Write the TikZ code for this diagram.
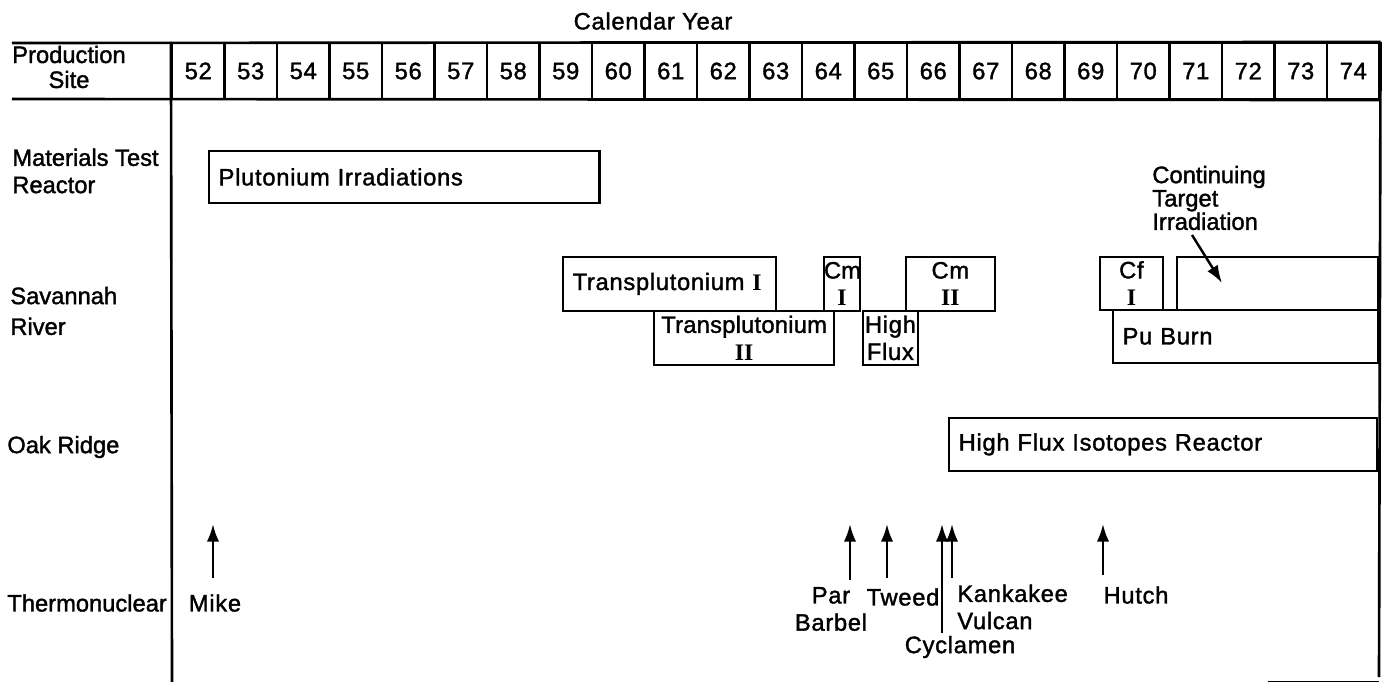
\documentclass[tikz,border=0pt]{standalone}
\usepackage{fontspec}
\setmainfont{Liberation Sans}[FakeBold=1.5]
\newfontfamily\romfont{Liberation Serif}
\usetikzlibrary{arrows.meta}
\def\colw{52.5}
\def\xzero{172}
\def\pxu{0.5669}
\def\tipy{524}
\newcommand{\romn}[1]{{\romfont\bfseries #1}}
\newcommand{\runbox}[6]{
    \pgfmathsetmacro{\boxw}{(#4-#2)*\pxu-11}
    \pgfmathsetmacro{\boxh}{(#5-#3)*\pxu}
    \node[runbox, align=left, inner xsep=5.5pt, text width=\boxw pt, minimum height=\boxh pt] (#1) at (#2,#3) {#6};
}
\newcommand{\tagbox}[6]{
    \pgfmathsetmacro{\boxw}{(#4-#2)*\pxu}
    \pgfmathsetmacro{\boxh}{(#5-#3)*\pxu}
    \node[runbox, align=center, inner xsep=0pt, text width=\boxw pt, minimum height=\boxh pt] (#1) at (#2,#3) {#6};
}
\newcommand{\shot}[3]{
    \coordinate (#1-tail) at (#2,#3);
    \coordinate (#1-tip) at (#2,\tipy);
    \draw[shotarrow] (#1-tail) -- (#1-tip);
}
\tikzset{
    sitelbl/.style={font=\fontsize{13.5}{15.5}\selectfont, inner sep=0pt},
    lbl/.style={font=\fontsize{13.5}{15.5}\selectfont\addfontfeature{LetterSpace=3}, inner sep=0pt},
    runbox/.style={lbl, draw, line width=1.3pt, anchor=north west, outer sep=0pt, inner ysep=0pt},
    yearcell/.style={lbl, draw, line width=1.3pt, minimum width=29.76pt, minimum height=31.75pt},
    frame/.style={line width=1.5pt},
    shotarrow/.style={line width=1.4pt, -{Latex[length=10pt,width=7pt]}}
}

\begin{document}
\begin{tikzpicture}[x=0.02cm, y=-0.02cm]
    \useasboundingbox (0,0) rectangle (1383,682);
    \node[lbl] (calyear) at (653,21) {Calendar Year};
    \foreach \yr [count=\i from 0] in {52,...,74}
        \node[yearcell] (y\yr) at ({\xzero+(\i+0.5)*\colw},71) {\yr};
    \draw[frame] (12,43) -- (y74.north east);
    \draw[frame] (12,99) -- (y74.south east);
    \draw[frame] (y52.north west) -- (\xzero,682);
    \draw[frame] (y74.north east) -- (1379,677);
    \draw[thin] (1268,681) -- (1379,681);

    \node[sitelbl, align=center, font=\fontsize{13.5}{14.2}\selectfont] (prodsite) at (69,67) {Production\\Site};
    \node[sitelbl, align=left, anchor=west] (mtr) at (12,171) {Materials Test\\Reactor};
    \node[sitelbl, align=left, anchor=west] (savriver) at (10,311) {Savannah\\[2pt]River};
    \node[sitelbl, anchor=west] (oakridge) at (7,447) {Oak Ridge};
    \node[sitelbl, anchor=west] (thermo) at (7,603) {Thermonuclear};

    \runbox{puirr}{209}{151}{601}{203}{Plutonium Irradiations}
    \runbox{tpu1}{563}{257}{777}{311}{Transplutonium \romn{I}}
    \tagbox{tpu2}{654}{311}{835}{365}{\addfontfeature{LetterSpace=1}Transplutonium\\\romn{II}}
    \tagbox{cm1}{824}{257}{860}{311}{\addfontfeature{LetterSpace=0}Cm\\\romn{I}}
    \tagbox{hiflux}{863}{311}{918}{365}{High\\Flux}
    \tagbox{cm2}{906}{257}{995}{311}{Cm\\\romn{II}}
    \tagbox{cf1}{1100}{257}{1163}{310}{Cf\\\romn{I}}
    \runbox{target}{1177}{257}{1379}{310}{}
    \runbox{puburn}{1113}{310}{1379}{363}{Pu Burn}
    \runbox{hfir}{949}{418}{1379}{471}{High Flux Isotopes Reactor}

    \node[lbl, align=left, anchor=west, font=\fontsize{13.5}{13.3}\selectfont] (contlbl) at (1152,198) {Continuing\\Target\\Irradiation};
    \coordinate (target-from) at (1192,235);
    \coordinate (target-aim) at (1222,283);
    \draw[shotarrow] (target-from) -- (target-aim);

    \shot{mike}{213}{578}
    \shot{parbarbel}{850}{580}
    \shot{tweed}{887}{578}
    \shot{cyclamen}{942}{633}
    \shot{kankakee}{952}{578}
    \shot{hutch}{1103}{575}
    \node[lbl] (mikelbl) at (215,603) {Mike};
    \node[lbl, align=center] (parlbl) at (831,609) {Par\\Barbel};
    \node[lbl] (tweedlbl) at (903,597) {Tweed};
    \node[lbl] (cyclbl) at (960,647) {Cyclamen};
    \node[lbl, align=left, anchor=west] (kanklbl) at (957,607) {Kankakee\\Vulcan};
    \node[lbl] (hutchlbl) at (1136,595) {Hutch};
\end{tikzpicture}
\end{document}
